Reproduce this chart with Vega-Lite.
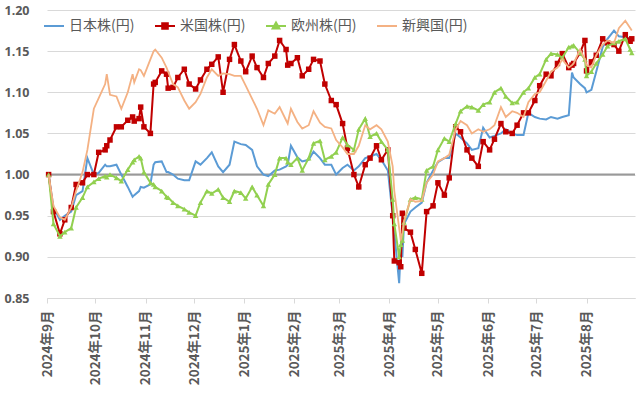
{
 "$schema": "https://vega.github.io/schema/vega-lite/v6.json",
 "width": 588,
 "height": 288,
 "autosize": {"type": "none"},
 "padding": {"left": 47, "top": 10, "right": 5, "bottom": 95},
 "background": "white",
 "config": {"view": {"stroke": null}, "font": "Noto Sans CJK JP"},
 "layer": [
  {
   "data": {"values": [{"v": 1}]},
   "mark": {"type": "rule", "color": "#999999", "strokeWidth": 2},
   "encoding": {
    "y": {"field": "v", "type": "quantitative", "scale": {"domain": [0.85, 1.2], "nice": false, "zero": false},
     "axis": {"title": null, "values": [0.85, 0.9, 0.95, 1, 1.05, 1.1, 1.15, 1.2], "format": ".2f", "labelFont": "Noto Sans", "labelFontSize": 12.5, "labelFontWeight": "bold", "labelColor": "#595959", "domain": false, "ticks": false, "labelPadding": 18, "grid": true, "gridColor": "#D9D9D9", "gridWidth": 1}}
   }
  },
  {
   "data": {"values": [
    {"t":"2024-09-02","a":1.0,"b":1.0,"c":1.0,"d":1.0},
    {"t":"2024-09-05","a":0.96,"b":0.955,"c":0.94,"d":0.962},
    {"t":"2024-09-09","a":0.945,"b":0.928,"c":0.925,"d":0.948},
    {"t":"2024-09-12","a":0.95,"b":0.945,"c":0.93,"d":0.945},
    {"t":"2024-09-16","a":0.955,"b":0.96,"c":0.935,"d":0.96},
    {"t":"2024-09-19","a":0.975,"b":0.988,"c":0.96,"d":0.98},
    {"t":"2024-09-23","a":0.98,"b":0.99,"c":0.972,"d":1.003},
    {"t":"2024-09-26","a":1.02,"b":1.0,"c":0.985,"d":1.03},
    {"t":"2024-09-30","a":1.0,"b":1.0,"c":0.991,"d":1.08},
    {"t":"2024-10-03","a":1.002,"b":1.027,"c":0.995,"d":1.093},
    {"t":"2024-10-07","a":1.012,"b":1.03,"c":0.998,"d":1.11},
    {"t":"2024-10-08","a":1.01,"b":1.035,"c":0.997,"d":1.122},
    {"t":"2024-10-10","a":1.01,"b":1.042,"c":1.0,"d":1.097},
    {"t":"2024-10-14","a":1.012,"b":1.058,"c":0.996,"d":1.095},
    {"t":"2024-10-17","a":1.0,"b":1.058,"c":0.992,"d":1.08},
    {"t":"2024-10-21","a":0.985,"b":1.066,"c":1.006,"d":1.1},
    {"t":"2024-10-24","a":0.973,"b":1.07,"c":1.015,"d":1.122},
    {"t":"2024-10-25","a":0.975,"b":1.065,"c":1.018,"d":1.112},
    {"t":"2024-10-28","a":0.98,"b":1.068,"c":1.022,"d":1.128},
    {"t":"2024-10-29","a":0.985,"b":1.082,"c":1.02,"d":1.127},
    {"t":"2024-10-31","a":0.984,"b":1.058,"c":1.003,"d":1.12},
    {"t":"2024-11-04","a":0.988,"b":1.05,"c":0.99,"d":1.14},
    {"t":"2024-11-06","a":1.012,"b":1.11,"c":0.988,"d":1.15},
    {"t":"2024-11-07","a":1.015,"b":1.112,"c":0.985,"d":1.152},
    {"t":"2024-11-11","a":1.016,"b":1.126,"c":0.98,"d":1.142},
    {"t":"2024-11-14","a":1.003,"b":1.122,"c":0.973,"d":1.13},
    {"t":"2024-11-15","a":1.003,"b":1.105,"c":0.972,"d":1.125},
    {"t":"2024-11-18","a":1.0,"b":1.106,"c":0.966,"d":1.11},
    {"t":"2024-11-21","a":0.995,"b":1.118,"c":0.962,"d":1.106},
    {"t":"2024-11-25","a":0.993,"b":1.128,"c":0.958,"d":1.09},
    {"t":"2024-11-28","a":0.993,"b":1.11,"c":0.954,"d":1.08},
    {"t":"2024-12-02","a":1.016,"b":1.104,"c":0.95,"d":1.088},
    {"t":"2024-12-05","a":1.012,"b":1.115,"c":0.966,"d":1.098},
    {"t":"2024-12-09","a":1.02,"b":1.128,"c":0.98,"d":1.118},
    {"t":"2024-12-12","a":1.027,"b":1.134,"c":0.977,"d":1.128},
    {"t":"2024-12-16","a":1.01,"b":1.143,"c":0.982,"d":1.12},
    {"t":"2024-12-19","a":1.003,"b":1.1,"c":0.972,"d":1.123},
    {"t":"2024-12-23","a":1.012,"b":1.14,"c":0.967,"d":1.122},
    {"t":"2024-12-26","a":1.04,"b":1.158,"c":0.98,"d":1.12},
    {"t":"2024-12-30","a":1.037,"b":1.138,"c":0.978,"d":1.12},
    {"t":"2025-01-02","a":1.036,"b":1.125,"c":0.971,"d":1.108},
    {"t":"2025-01-06","a":1.03,"b":1.144,"c":0.985,"d":1.092},
    {"t":"2025-01-09","a":1.01,"b":1.13,"c":0.975,"d":1.08},
    {"t":"2025-01-13","a":1.0,"b":1.118,"c":0.962,"d":1.06},
    {"t":"2025-01-16","a":0.998,"b":1.135,"c":0.988,"d":1.078},
    {"t":"2025-01-20","a":1.005,"b":1.144,"c":1.0,"d":1.074},
    {"t":"2025-01-23","a":1.006,"b":1.163,"c":1.02,"d":1.082},
    {"t":"2025-01-27","a":1.01,"b":1.152,"c":1.02,"d":1.066},
    {"t":"2025-01-28","a":1.012,"b":1.133,"c":1.015,"d":1.062},
    {"t":"2025-01-30","a":1.035,"b":1.135,"c":1.012,"d":1.08},
    {"t":"2025-02-03","a":1.021,"b":1.142,"c":1.02,"d":1.064},
    {"t":"2025-02-06","a":1.016,"b":1.12,"c":1.005,"d":1.056},
    {"t":"2025-02-10","a":1.018,"b":1.128,"c":1.02,"d":1.06},
    {"t":"2025-02-13","a":1.028,"b":1.14,"c":1.038,"d":1.077},
    {"t":"2025-02-17","a":1.02,"b":1.138,"c":1.041,"d":1.063},
    {"t":"2025-02-20","a":1.012,"b":1.11,"c":1.018,"d":1.058},
    {"t":"2025-02-24","a":1.012,"b":1.09,"c":1.022,"d":1.056},
    {"t":"2025-02-27","a":1.0,"b":1.085,"c":1.027,"d":1.042},
    {"t":"2025-03-03","a":1.008,"b":1.062,"c":1.045,"d":1.033},
    {"t":"2025-03-06","a":1.012,"b":1.032,"c":1.036,"d":1.025},
    {"t":"2025-03-10","a":1.005,"b":1.0,"c":1.03,"d":1.025},
    {"t":"2025-03-13","a":1.01,"b":0.985,"c":1.055,"d":1.035},
    {"t":"2025-03-17","a":1.02,"b":1.012,"c":1.068,"d":1.06},
    {"t":"2025-03-20","a":1.022,"b":1.02,"c":1.046,"d":1.055},
    {"t":"2025-03-24","a":1.025,"b":1.035,"c":1.05,"d":1.06},
    {"t":"2025-03-27","a":1.018,"b":1.018,"c":1.04,"d":1.055},
    {"t":"2025-03-31","a":1.005,"b":1.03,"c":1.03,"d":1.04},
    {"t":"2025-04-03","a":0.95,"b":0.95,"c":0.97,"d":1.01},
    {"t":"2025-04-04","a":0.93,"b":0.895,"c":0.94,"d":0.98},
    {"t":"2025-04-07","a":0.868,"b":0.893,"c":0.9,"d":0.935},
    {"t":"2025-04-08","a":0.91,"b":0.888,"c":0.915,"d":0.92},
    {"t":"2025-04-09","a":0.9,"b":0.953,"c":0.92,"d":0.93},
    {"t":"2025-04-10","a":0.94,"b":0.935,"c":0.942,"d":0.943},
    {"t":"2025-04-14","a":0.955,"b":0.93,"c":0.97,"d":0.97},
    {"t":"2025-04-17","a":0.96,"b":0.909,"c":0.972,"d":0.967},
    {"t":"2025-04-21","a":0.966,"b":0.88,"c":0.97,"d":0.968},
    {"t":"2025-04-24","a":0.99,"b":0.955,"c":1.005,"d":0.99},
    {"t":"2025-04-28","a":1.005,"b":0.962,"c":1.01,"d":1.0},
    {"t":"2025-05-01","a":1.015,"b":0.99,"c":1.03,"d":1.016},
    {"t":"2025-05-05","a":1.02,"b":0.975,"c":1.044,"d":1.02},
    {"t":"2025-05-08","a":1.02,"b":0.996,"c":1.04,"d":1.024},
    {"t":"2025-05-12","a":1.05,"b":1.058,"c":1.062,"d":1.055},
    {"t":"2025-05-15","a":1.045,"b":1.052,"c":1.077,"d":1.065},
    {"t":"2025-05-19","a":1.038,"b":1.03,"c":1.083,"d":1.06},
    {"t":"2025-05-22","a":1.03,"b":1.02,"c":1.082,"d":1.05},
    {"t":"2025-05-26","a":1.032,"b":1.01,"c":1.078,"d":1.055},
    {"t":"2025-05-29","a":1.057,"b":1.04,"c":1.085,"d":1.052},
    {"t":"2025-06-02","a":1.045,"b":1.03,"c":1.088,"d":1.055},
    {"t":"2025-06-05","a":1.047,"b":1.043,"c":1.1,"d":1.06},
    {"t":"2025-06-09","a":1.05,"b":1.062,"c":1.105,"d":1.082},
    {"t":"2025-06-12","a":1.055,"b":1.052,"c":1.095,"d":1.07},
    {"t":"2025-06-16","a":1.05,"b":1.05,"c":1.087,"d":1.077},
    {"t":"2025-06-19","a":1.048,"b":1.06,"c":1.088,"d":1.075},
    {"t":"2025-06-23","a":1.048,"b":1.075,"c":1.1,"d":1.07},
    {"t":"2025-06-26","a":1.075,"b":1.075,"c":1.105,"d":1.088},
    {"t":"2025-06-30","a":1.07,"b":1.09,"c":1.118,"d":1.098},
    {"t":"2025-07-03","a":1.068,"b":1.108,"c":1.122,"d":1.1},
    {"t":"2025-07-07","a":1.067,"b":1.122,"c":1.14,"d":1.114},
    {"t":"2025-07-10","a":1.07,"b":1.12,"c":1.147,"d":1.125},
    {"t":"2025-07-14","a":1.068,"b":1.135,"c":1.146,"d":1.13},
    {"t":"2025-07-17","a":1.07,"b":1.147,"c":1.142,"d":1.14},
    {"t":"2025-07-21","a":1.072,"b":1.13,"c":1.155,"d":1.13},
    {"t":"2025-07-23","a":1.124,"b":1.133,"c":1.156,"d":1.133},
    {"t":"2025-07-24","a":1.118,"b":1.135,"c":1.157,"d":1.135},
    {"t":"2025-07-28","a":1.11,"b":1.148,"c":1.148,"d":1.152},
    {"t":"2025-07-31","a":1.105,"b":1.163,"c":1.14,"d":1.14},
    {"t":"2025-08-01","a":1.1,"b":1.126,"c":1.12,"d":1.133},
    {"t":"2025-08-04","a":1.103,"b":1.137,"c":1.125,"d":1.13},
    {"t":"2025-08-07","a":1.125,"b":1.145,"c":1.135,"d":1.145},
    {"t":"2025-08-11","a":1.155,"b":1.165,"c":1.146,"d":1.158},
    {"t":"2025-08-14","a":1.165,"b":1.16,"c":1.156,"d":1.163},
    {"t":"2025-08-18","a":1.175,"b":1.158,"c":1.16,"d":1.16},
    {"t":"2025-08-21","a":1.168,"b":1.15,"c":1.162,"d":1.178},
    {"t":"2025-08-25","a":1.167,"b":1.17,"c":1.165,"d":1.187},
    {"t":"2025-08-28","a":1.165,"b":1.162,"c":1.152,"d":1.178},
    {"t":"2025-08-29","a":1.165,"b":1.165,"c":1.148,"d":1.175}
   ]},
   "transform": [{"fold": ["a", "b", "c", "d"], "as": ["s", "v"]}],
   "encoding": {
    "x": {"field": "t", "type": "temporal",
     "scale": {"type": "utc", "domain": [{"year": 2024, "month": 9, "date": 1, "utc": true}, {"year": 2025, "month": 8, "date": 31, "utc": true}]},
     "axis": {"title": null, "tickCount": {"interval": "month", "step": 1}, "labelExpr": "utcyear(datum.value) + '年' + (utcmonth(datum.value) + 1) + '月'", "labelAngle": -90, "labelFont": "Noto Sans CJK JP", "labelFontSize": 13.5, "labelFontWeight": "bold", "labelColor": "#595959", "domainColor": "#D9D9D9", "domainWidth": 1, "tickColor": "#D9D9D9", "tickSize": 5, "labelPadding": 7, "grid": false, "labelOverlap": false, "labelFlush": false, "labelBound": false}},
    "y": {"field": "v", "type": "quantitative", "scale": {"domain": [0.85, 1.2], "nice": false, "zero": false},
     "axis": {"title": null, "values": [0.85, 0.9, 0.95, 1, 1.05, 1.1, 1.15, 1.2], "format": ".2f", "labelFont": "Noto Sans", "labelFontSize": 12.5, "labelFontWeight": "bold", "labelColor": "#595959", "domain": false, "ticks": false, "labelPadding": 18, "grid": true, "gridColor": "#D9D9D9", "gridWidth": 1}},
    "color": {"field": "s", "type": "nominal",
     "scale": {"domain": ["a", "b", "c", "d"], "range": ["#5B9BD5", "#C00000", "#92D050", "#F4B183"]},
     "legend": {"title": null, "orient": "none", "legendX": -4, "legendY": 5, "direction": "horizontal", "columns": 4, "columnPadding": 16,
      "labelExpr": "datum.value == 'a' ? '日本株(円)' : datum.value == 'b' ? '米国株(円)' : datum.value == 'c' ? '欧州株(円)' : '新興国(円)'",
      "labelFont": "Noto Sans CJK JP", "labelFontSize": 14, "labelColor": "#595959", "labelOffset": 4,
      "symbolType": "stroke", "symbolSize": 400, "symbolStrokeWidth": 2,
      "encode": {"symbols": {"update": {
       "shape": {"signal": "datum.value == 'b' ? 'M-1,0H1M-0.28,-0.28H0.28V0.28H-0.28Z' : datum.value == 'c' ? 'M-1,0H1M0,-0.34L0.34,0.26H-0.34Z' : 'M-1,0H1'"},
       "fill": {"scale": "color", "field": "value"},
       "stroke": {"scale": "color", "field": "value"},
       "strokeWidth": {"value": 2},
       "opacity": {"value": 1}}}}}}
   },
   "layer": [
    {"transform": [{"filter": "datum.s == 'a'"}], "mark": {"type": "line", "strokeWidth": 2}},
    {"transform": [{"filter": "datum.s == 'b'"}], "mark": {"type": "line", "strokeWidth": 2}},
    {"transform": [{"filter": "datum.s == 'b'"}], "mark": {"type": "point", "shape": "square", "filled": true, "size": 30, "opacity": 1}},
    {"transform": [{"filter": "datum.s == 'c'"}], "mark": {"type": "line", "strokeWidth": 2}},
    {"transform": [{"filter": "datum.s == 'c'"}], "mark": {"type": "point", "shape": "triangle-up", "filled": true, "size": 30, "opacity": 1}},
    {"transform": [{"filter": "datum.s == 'd'"}], "mark": {"type": "line", "strokeWidth": 1.8}}
   ]
  }
 ]
}
